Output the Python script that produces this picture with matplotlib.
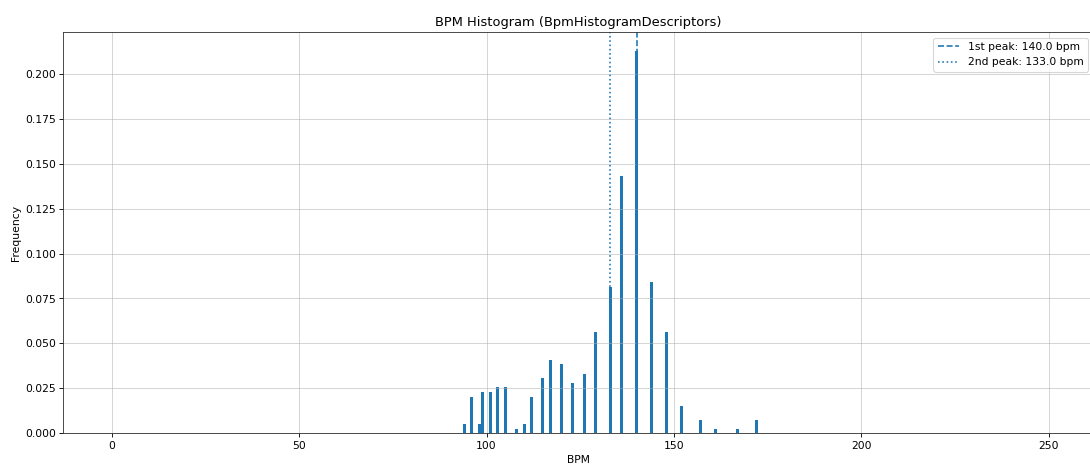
import matplotlib
matplotlib.use("Agg")
import matplotlib.pyplot as plt
import numpy as np

# BPM bins with nonzero weight and their normalized frequency
peak_bpms = [94, 96, 98, 99, 101, 103, 105, 108, 110, 112, 115, 117, 120,
             123, 126, 129, 133, 136, 140, 144, 148, 152, 157, 161, 167, 172]
peak_freqs = [0.0050, 0.0202, 0.0050, 0.0227, 0.0227, 0.0255, 0.0255, 0.0022,
              0.0050, 0.0202, 0.0305, 0.0405, 0.0383, 0.0278, 0.0330, 0.0561,
              0.0815, 0.1430, 0.2128, 0.0843, 0.0561, 0.0150, 0.0075, 0.0025,
              0.0025, 0.0075]

first_peak = 140.0
second_peak = 133.0

# full histogram, one bin per BPM
n_bins = 250
histogram = np.zeros(n_bins)
histogram[peak_bpms] = peak_freqs

fig = plt.figure(figsize=(14, 6), dpi=1090 / 14)
ax = fig.add_axes([0.0581, 0.0728, 0.9451, 0.858])

ax.bar(np.arange(n_bins), histogram, width=0.8, color="C0")
ax.axvline(first_peak, color="C0", linestyle="--", label=f"1st peak: {first_peak} bpm")
ax.axvline(second_peak, color="C0", linestyle=":", label=f"2nd peak: {second_peak} bpm")

ax.set_title("BPM Histogram (BpmHistogramDescriptors)")
ax.set_xlabel("BPM")
ax.set_ylabel("Frequency")
ax.legend(loc="upper right")
ax.grid(True, alpha=0.6)
for s in ax.spines.values():
    s.set_edgecolor("#333333")

plt.savefig("out.png", dpi=1090 / 14)
